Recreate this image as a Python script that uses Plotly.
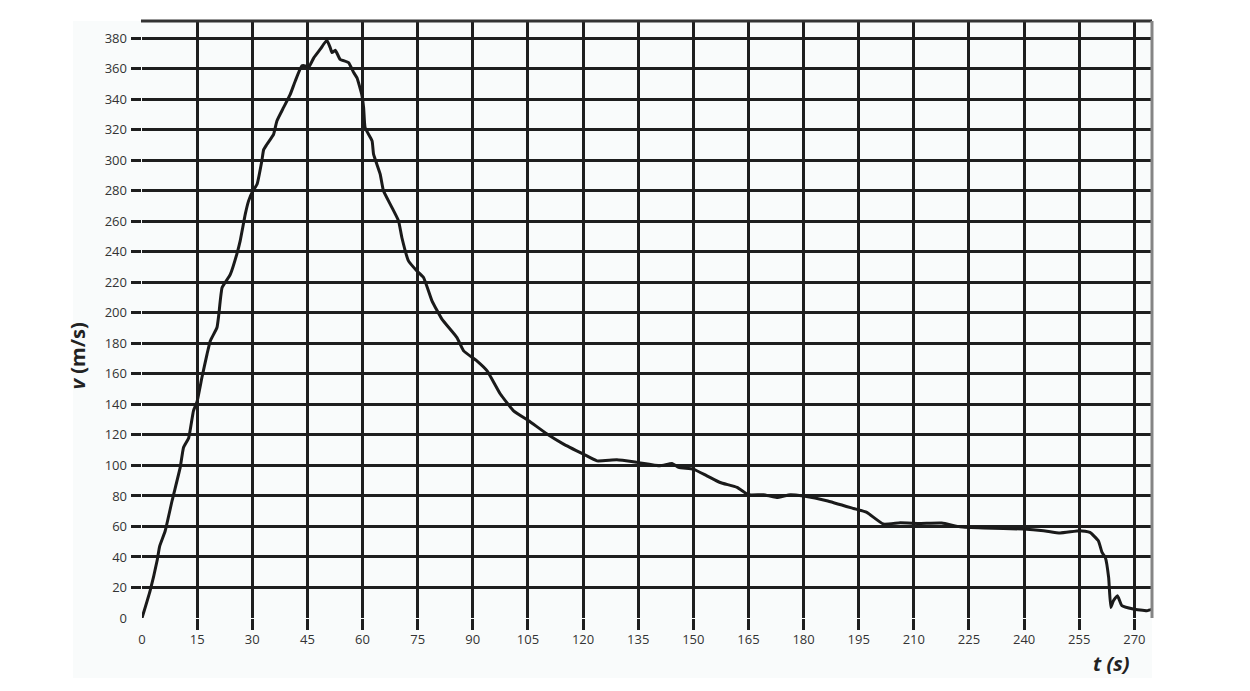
import plotly.graph_objects as go

# ---- data ----
t_s = [0, 2.2, 4.1, 4.8, 6.3, 8.2, 10.4, 11.3, 12.7, 14.0, 15.0, 16.3, 17.7, 18.6, 20.4, 20.9,
       21.8, 24.0, 25.8, 26.7, 28.1, 29.0, 30.2, 31.3, 32.6, 33.1, 34.0, 35.8, 36.7, 38.5, 40.3,
       41.7, 43.5, 44.4, 45.3, 46.7, 48.5, 50.3, 51.2, 51.7, 52.6, 53.9, 56.2, 57.6, 58.5, 59.8,
       60.3, 60.7, 62.6, 63.0, 64.8, 65.7, 67.8, 69.8, 70.7, 72.5, 74.8, 76.6, 78.9, 81.6, 85.7,
       87.5, 91.1, 93.9, 97.5, 101.1, 105.2, 110.2, 114.7, 120.1, 123.8, 129.2, 134.7, 141,
       144.2, 146, 150, 153.7, 157.3, 161.9, 165, 169.1, 172.7, 176.4, 180, 186.3, 193.6, 197.2,
       201.7, 206.3, 211.7, 217.6, 222.6, 228.9, 239.8, 245.3, 249.8, 255.2, 257.9, 260.2, 261.2,
       262.1, 263, 263.6, 264.3, 265.4, 266.6, 269.7, 273.4, 275]
v_ms = [0, 17.8, 37.5, 47, 57, 77, 98.7, 111.8, 118, 135.8, 142, 157.6, 173, 181.7, 190.4, 199,
        216.6, 225, 238.5, 247, 264.7, 273.4, 280, 284.3, 299.6, 307, 310.5, 317, 325.8, 334.5, 343,
        352, 361.9, 361.9, 360.8, 367, 372.8, 378.7, 373.9, 370.6, 372.1, 366.2, 364, 357.5, 354, 343,
        334.5, 321.4, 312.7, 304, 291, 280, 270, 260.3, 249.4, 234.1, 227.5, 223.2, 207.9, 195.9, 183.8,
        175.1, 168.6, 162, 146.8, 135.8, 129.3, 120.6, 114, 107.4, 103, 103.7, 102, 99.8,
        101.3, 98.7, 97.6, 93.2, 88.8, 85.6, 80.8, 80.8, 79, 80.8, 79.9, 76.9, 71.8, 69.2,
        61.6, 62.4, 62, 62.2, 59.8, 59, 58.3, 57.2, 55.7, 57.2, 56.1, 50.6, 43,
        39.7, 26.6, 6.9, 11.3, 14.6, 8.1, 5.9, 4.8, 5.9]

x_ticks = list(range(0, 271, 15))
y_ticks = list(range(0, 381, 20))
x_range = [0, 274.8]
y_range = [0, 391.3]

GRID = "#1e1e1e"
TICKFONT = dict(family="Open Sans", size=13, color="#333333")

fig = go.Figure()
fig.add_trace(go.Scatter(x=t_s, y=v_ms, mode="lines",
                         line=dict(color="#1a1a1a", width=3, shape="spline", smoothing=0.4),
                         hoverinfo="skip", showlegend=False))
# helper invisible trace for the tick-only overlay axes
fig.add_trace(go.Scatter(x=[None], y=[None], xaxis="x2", yaxis="y2", mode="lines",
                         showlegend=False, hoverinfo="skip"))

fig.update_layout(
    width=1250, height=691,
    margin=dict(l=134, r=106, t=13, b=81),
    paper_bgcolor="white",
    plot_bgcolor="#fafcfc",
    xaxis=dict(range=x_range, tickmode="array", tickvals=x_ticks,
               ticktext=[str(v) for v in x_ticks], showgrid=True, gridcolor=GRID,
               gridwidth=2.5, zeroline=False, showline=False, ticks="",
               tickfont=TICKFONT, ticklabelstandoff=12, fixedrange=True),
    yaxis=dict(range=y_range, tickmode="array", tickvals=y_ticks,
               ticktext=[str(v) for v in y_ticks], showgrid=True, gridcolor=GRID,
               gridwidth=2.5, zeroline=False, showline=False, ticks="",
               tickfont=TICKFONT, ticklabelstandoff=14, fixedrange=True),
    xaxis2=dict(range=x_range, overlaying="x", anchor="y2", side="bottom",
                tickmode="array", tickvals=x_ticks[1:], showticklabels=False,
                ticks="outside", ticklen=11, tickwidth=2.5, tickcolor=GRID,
                showgrid=False, zeroline=False, showline=False, fixedrange=True),
    yaxis2=dict(range=y_range, overlaying="y", anchor="x2", side="left",
                tickmode="array", tickvals=y_ticks[1:], showticklabels=False,
                ticks="outside", ticklen=10, tickwidth=2.5, tickcolor=GRID,
                showgrid=False, zeroline=False, showline=False, fixedrange=True),
    shapes=[
        dict(type="rect", xref="paper", yref="paper", x0=-0.0683, x1=1.0, y0=-0.1005, y1=1.0,
             fillcolor="#f9fbfb", line=dict(width=0), layer="below"),
        dict(type="line", xref="paper", yref="paper", x0=-0.001, x1=1.0, y0=1.0, y1=1.0,
             line=dict(color="#333333", width=3)),
        dict(type="line", xref="paper", yref="paper", x0=1.0, x1=1.0, y0=0, y1=1.0,
             line=dict(color="#858585", width=3)),
    ],
    annotations=[
        dict(text="<b><i>v</i> (m/s)</b>", xref="paper", yref="paper",
             x=-0.0645, y=0.44, textangle=-90, showarrow=False,
             font=dict(family="Open Sans", size=20, color="#222222"),
             xanchor="center", yanchor="middle"),
        dict(text="<b><i>t (s)</i></b>", xref="paper", yref="paper",
             x=0.960, y=-0.077, showarrow=False,
             font=dict(family="Open Sans", size=20, color="#222222"),
             xanchor="center", yanchor="middle"),
    ],
)

fig.write_html("out.html")
